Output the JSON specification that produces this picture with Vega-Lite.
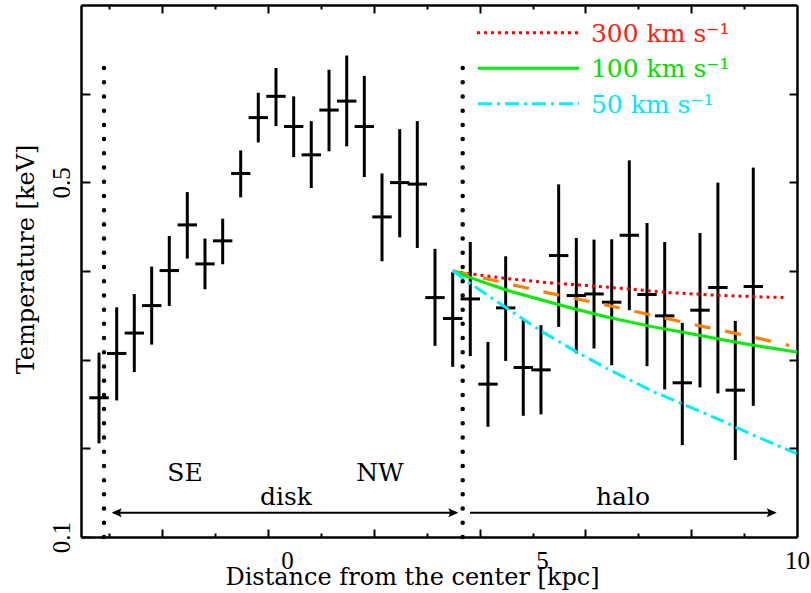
{
 "$schema": "https://vega.github.io/schema/vega-lite/v6.json",
 "width": 716, "height": 532,
 "autosize": {"type": "none"},
 "padding": {"left": 81, "top": 5, "right": 14, "bottom": 56},
 "background": "white",
 "config": {
  "view": {"stroke": null},
  "font": "DejaVu Serif",
  "axis": {"grid": false, "domainColor": "black", "domainWidth": 2.5, "tickColor": "black", "tickWidth": 2, "labelColor": "black", "titleColor": "black", "labelFont": "Liberation Serif", "titleFont": "DejaVu Serif", "labelFontSize": 25, "titleFontSize": 24, "titleFontWeight": "normal"}
 },
 "datasets": {
  "pts": [
   {"x": -3.686, "xlo": -3.876, "xhi": -3.496, "y": 0.257, "ylo": 0.2056, "yhi": 0.308},
   {"x": -3.339, "xlo": -3.529, "xhi": -3.149, "y": 0.307, "ylo": 0.254, "yhi": 0.359},
   {"x": -2.994, "xlo": -3.184, "xhi": -2.804, "y": 0.330, "ylo": 0.286, "yhi": 0.374},
   {"x": -2.653, "xlo": -2.843, "xhi": -2.463, "y": 0.361, "ylo": 0.317, "yhi": 0.405},
   {"x": -2.308, "xlo": -2.498, "xhi": -2.118, "y": 0.4005, "ylo": 0.3606, "yhi": 0.4395},
   {"x": -1.955, "xlo": -2.145, "xhi": -1.765, "y": 0.452, "ylo": 0.414, "yhi": 0.489},
   {"x": -1.608, "xlo": -1.798, "xhi": -1.418, "y": 0.408, "ylo": 0.3794, "yhi": 0.4366},
   {"x": -1.261, "xlo": -1.451, "xhi": -1.071, "y": 0.434, "ylo": 0.4076, "yhi": 0.459},
   {"x": -0.908, "xlo": -1.098, "xhi": -0.718, "y": 0.510, "ylo": 0.483, "yhi": 0.536},
   {"x": -0.563, "xlo": -0.753, "xhi": -0.373, "y": 0.573, "ylo": 0.545, "yhi": 0.601},
   {"x": -0.216, "xlo": -0.406, "xhi": -0.026, "y": 0.597, "ylo": 0.5634, "yhi": 0.629},
   {"x": 0.131, "xlo": -0.059, "xhi": 0.321, "y": 0.563, "ylo": 0.5285, "yhi": 0.597},
   {"x": 0.476, "xlo": 0.286, "xhi": 0.666, "y": 0.531, "ylo": 0.4936, "yhi": 0.569},
   {"x": 0.824, "xlo": 0.634, "xhi": 1.014, "y": 0.5815, "ylo": 0.535, "yhi": 0.627},
   {"x": 1.171, "xlo": 0.981, "xhi": 1.361, "y": 0.5916, "ylo": 0.5406, "yhi": 0.643},
   {"x": 1.516, "xlo": 1.326, "xhi": 1.706, "y": 0.563, "ylo": 0.506, "yhi": 0.620},
   {"x": 1.863, "xlo": 1.673, "xhi": 2.053, "y": 0.461, "ylo": 0.411, "yhi": 0.510},
   {"x": 2.210, "xlo": 2.020, "xhi": 2.400, "y": 0.4997, "ylo": 0.438, "yhi": 0.560},
   {"x": 2.555, "xlo": 2.365, "xhi": 2.745, "y": 0.498, "ylo": 0.426, "yhi": 0.569},
   {"x": 2.902, "xlo": 2.712, "xhi": 3.092, "y": 0.370, "ylo": 0.3156, "yhi": 0.425},
   {"x": 3.249, "xlo": 3.059, "xhi": 3.439, "y": 0.3464, "ylo": 0.2919, "yhi": 0.399},
   {"x": 3.594, "xlo": 3.404, "xhi": 3.784, "y": 0.3685, "ylo": 0.304, "yhi": 0.4327},
   {"x": 3.941, "xlo": 3.751, "xhi": 4.131, "y": 0.2724, "ylo": 0.2243, "yhi": 0.320},
   {"x": 4.288, "xlo": 4.098, "xhi": 4.478, "y": 0.3584, "ylo": 0.2986, "yhi": 0.4166},
   {"x": 4.633, "xlo": 4.443, "xhi": 4.823, "y": 0.2912, "ylo": 0.2367, "yhi": 0.3453},
   {"x": 4.980, "xlo": 4.790, "xhi": 5.170, "y": 0.2885, "ylo": 0.2383, "yhi": 0.3389},
   {"x": 5.327, "xlo": 5.137, "xhi": 5.517, "y": 0.4174, "ylo": 0.337, "yhi": 0.4977},
   {"x": 5.673, "xlo": 5.483, "xhi": 5.863, "y": 0.3723, "ylo": 0.307, "yhi": 0.4372},
   {"x": 6.020, "xlo": 5.830, "xhi": 6.210, "y": 0.3741, "ylo": 0.3126, "yhi": 0.4354},
   {"x": 6.367, "xlo": 6.177, "xhi": 6.557, "y": 0.3648, "ylo": 0.2938, "yhi": 0.4358},
   {"x": 6.712, "xlo": 6.522, "xhi": 6.902, "y": 0.4403, "ylo": 0.3558, "yhi": 0.5248},
   {"x": 7.059, "xlo": 6.869, "xhi": 7.249, "y": 0.3735, "ylo": 0.2927, "yhi": 0.4541},
   {"x": 7.406, "xlo": 7.216, "xhi": 7.596, "y": 0.3494, "ylo": 0.2664, "yhi": 0.4327},
   {"x": 7.751, "xlo": 7.561, "xhi": 7.941, "y": 0.2739, "ylo": 0.2037, "yhi": 0.3415},
   {"x": 8.098, "xlo": 7.908, "xhi": 8.288, "y": 0.3558, "ylo": 0.2687, "yhi": 0.4429},
   {"x": 8.449, "xlo": 8.259, "xhi": 8.639, "y": 0.3814, "ylo": 0.2619, "yhi": 0.4997},
   {"x": 8.790, "xlo": 8.600, "xhi": 8.980, "y": 0.2656, "ylo": 0.1868, "yhi": 0.3437},
   {"x": 9.143, "xlo": 8.953, "xhi": 9.333, "y": 0.3825, "ylo": 0.2479, "yhi": 0.5166}
  ],
  "curves": [
   {"model": "300", "x": 3.25, "y": 0.400}, {"model": "300", "x": 3.65, "y": 0.3963}, {"model": "300", "x": 4.31, "y": 0.3915}, {"model": "300", "x": 5.18, "y": 0.3865}, {"model": "300", "x": 6.08, "y": 0.3828}, {"model": "300", "x": 7.49, "y": 0.3757}, {"model": "300", "x": 8.41, "y": 0.3727}, {"model": "300", "x": 9.30, "y": 0.3708}, {"model": "300", "x": 9.75, "y": 0.370},
   {"model": "orange", "x": 3.25, "y": 0.400}, {"model": "orange", "x": 4.18, "y": 0.3877}, {"model": "orange", "x": 5.12, "y": 0.3753}, {"model": "orange", "x": 6.37, "y": 0.3603}, {"model": "orange", "x": 7.94, "y": 0.340}, {"model": "orange", "x": 9.18, "y": 0.325}, {"model": "orange", "x": 9.85, "y": 0.316},
   {"model": "100", "x": 3.25, "y": 0.400}, {"model": "100", "x": 3.65, "y": 0.3915}, {"model": "100", "x": 4.31, "y": 0.3783}, {"model": "100", "x": 4.96, "y": 0.3678}, {"model": "100", "x": 5.61, "y": 0.3577}, {"model": "100", "x": 6.27, "y": 0.3482}, {"model": "100", "x": 7.18, "y": 0.337}, {"model": "100", "x": 7.84, "y": 0.330}, {"model": "100", "x": 8.49, "y": 0.3231}, {"model": "100", "x": 9.14, "y": 0.3163}, {"model": "100", "x": 10.0, "y": 0.3085},
   {"model": "50", "x": 3.25, "y": 0.400}, {"model": "50", "x": 3.59, "y": 0.386}, {"model": "50", "x": 4.57, "y": 0.348}, {"model": "50", "x": 4.96, "y": 0.333}, {"model": "50", "x": 5.61, "y": 0.311}, {"model": "50", "x": 6.27, "y": 0.290}, {"model": "50", "x": 6.69, "y": 0.278}, {"model": "50", "x": 7.18, "y": 0.264}, {"model": "50", "x": 7.84, "y": 0.248}, {"model": "50", "x": 8.49, "y": 0.232}, {"model": "50", "x": 9.14, "y": 0.215}, {"model": "50", "x": 9.99, "y": 0.194}
  ],
  "leg": [
   {"model": "300", "x1": 3.725, "x2": 5.706, "tx": 5.96, "y": 0.6687, "label": "300 km s⁻¹"},
   {"model": "100", "x1": 3.745, "x2": 5.726, "tx": 5.96, "y": 0.6288, "label": "100 km s⁻¹"},
   {"model": "50", "x1": 3.745, "x2": 5.726, "tx": 5.96, "y": 0.5887, "label": "50 km s⁻¹"}
  ],
  "arrows": [
   {"x1": -3.40, "x2": 3.32, "y": 0.1274},
   {"x1": 3.588, "x2": 9.56, "y": 0.1274}
  ],
  "heads": [
   {"x": -3.437, "y": 0.1274, "dir": "left"},
   {"x": 3.359, "y": 0.1274, "dir": "right"},
   {"x": 9.602, "y": 0.1274, "dir": "right"}
  ],
  "ann": [
   {"x": -2.0, "y": 0.1634, "t": "SE"},
   {"x": 1.824, "y": 0.1634, "t": "NW"},
   {"x": -0.02, "y": 0.136, "t": "disk"},
   {"x": 6.588, "y": 0.136, "t": "halo"}
  ],
  "vlines": [
   {"x": -3.588, "ylo": 0.1, "yhi": 0.643},
   {"x": 3.445, "ylo": 0.1, "yhi": 0.643}
  ]
 },
 "resolve": {"axis": {"x": "independent", "y": "independent"}},
 "layer": [
  {
   "layer": [
    {
     "data": {"name": "pts"},
     "mark": {"type": "rule", "strokeWidth": 3, "color": "black"},
     "encoding": {
      "x": {"field": "x", "type": "quantitative",
       "scale": {"domain": [-4.039, 10], "nice": false, "zero": false},
       "axis": {"orient": "bottom", "title": "Distance from the center [kpc]", "titleX": 331, "titleY": 47, "titleAlign": "center", "titleBaseline": "alphabetic",
        "values": [-3.484, -2.447, -1.41, -0.373, 0, 0.665, 1.702, 2.739, 3.776, 4.814, 5, 5.851, 6.888, 7.925, 8.963, 10],
        "labelExpr": "datum.value == 0 ? '0' : datum.value == 5 ? '5' : datum.value == 10 ? '10' : ''",
        "labelOverlap": false, "labelFlush": false, "labelPadding": 31, "labelBaseline": "alphabetic", "labelAlign": "center",
        "tickSize": {"condition": [{"test": "datum.value == 0 || datum.value == 5 || datum.value == 10", "value": 0}, {"test": "indexof([-2.447, -0.373, 1.702, 3.776, 5.851, 7.925], datum.value) >= 0", "value": -8}], "value": -4}}},
      "y": {"field": "ylo", "type": "quantitative",
       "scale": {"domain": [0.1, 0.7], "nice": false, "zero": false},
       "axis": {"orient": "left", "title": "Temperature [keV]", "titleX": -47.5, "titleY": 254, "titleAngle": 270, "titleAlign": "center", "titleBaseline": "alphabetic",
        "values": [0.1, 0.2, 0.3, 0.4, 0.5, 0.6],
        "labelExpr": "datum.value == 0.1 ? '0.1' : datum.value == 0.5 ? '0.5' : ''",
        "labelAngle": 270, "labelAlign": "center", "labelBaseline": "alphabetic", "labelPadding": 21, "tickSize": -9, "labelOverlap": false, "labelFlush": false}},
      "y2": {"field": "yhi"}
     }
    },
    {
     "data": {"name": "pts"},
     "mark": {"type": "rule", "strokeWidth": 3, "color": "black"},
     "encoding": {
      "x": {"field": "xlo", "type": "quantitative"},
      "x2": {"field": "xhi"},
      "y": {"field": "y", "type": "quantitative"}
     }
    },
    {
     "data": {"name": "curves"},
     "transform": [{"filter": "datum.model == '300'"}],
     "mark": {"type": "line", "color": "#ff0000", "strokeWidth": 3, "strokeDash": [3, 4]},
     "encoding": {"x": {"field": "x", "type": "quantitative"}, "y": {"field": "y", "type": "quantitative"}}
    },
    {
     "data": {"name": "curves"},
     "transform": [{"filter": "datum.model == 'orange'"}],
     "mark": {"type": "line", "color": "#ff8000", "strokeWidth": 3.2, "strokeDash": [16, 15]},
     "encoding": {"x": {"field": "x", "type": "quantitative"}, "y": {"field": "y", "type": "quantitative"}}
    },
    {
     "data": {"name": "curves"},
     "transform": [{"filter": "datum.model == '100'"}],
     "mark": {"type": "line", "color": "#00ee00", "strokeWidth": 3},
     "encoding": {"x": {"field": "x", "type": "quantitative"}, "y": {"field": "y", "type": "quantitative"}}
    },
    {
     "data": {"name": "curves"},
     "transform": [{"filter": "datum.model == '50'"}],
     "mark": {"type": "line", "color": "#00eeff", "strokeWidth": 3, "strokeDash": [14, 5, 3, 5]},
     "encoding": {"x": {"field": "x", "type": "quantitative"}, "y": {"field": "y", "type": "quantitative"}}
    },
    {
     "data": {"name": "leg"},
     "transform": [{"filter": "datum.model == '300'"}],
     "mark": {"type": "rule", "color": "#ff0000", "strokeWidth": 3, "strokeDash": [3, 4]},
     "encoding": {"x": {"field": "x1", "type": "quantitative"}, "x2": {"field": "x2"}, "y": {"field": "y", "type": "quantitative"}}
    },
    {
     "data": {"name": "leg"},
     "transform": [{"filter": "datum.model == '100'"}],
     "mark": {"type": "rule", "color": "#00ee00", "strokeWidth": 3},
     "encoding": {"x": {"field": "x1", "type": "quantitative"}, "x2": {"field": "x2"}, "y": {"field": "y", "type": "quantitative"}}
    },
    {
     "data": {"name": "leg"},
     "transform": [{"filter": "datum.model == '50'"}],
     "mark": {"type": "rule", "color": "#00eeff", "strokeWidth": 3, "strokeDash": [14, 5, 3, 5]},
     "encoding": {"x": {"field": "x1", "type": "quantitative"}, "x2": {"field": "x2"}, "y": {"field": "y", "type": "quantitative"}}
    },
    {
     "data": {"name": "leg"},
     "mark": {"type": "text", "align": "left", "baseline": "middle", "fontSize": 25, "font": "DejaVu Serif", "dy": 1},
     "encoding": {
      "x": {"field": "tx", "type": "quantitative"},
      "y": {"field": "y", "type": "quantitative"},
      "text": {"field": "label"},
      "color": {"field": "model", "type": "nominal", "scale": {"domain": ["300", "100", "50"], "range": ["#ff2010", "#00e000", "#00e8ff"]}, "legend": null}
     }
    },
    {
     "data": {"name": "arrows"},
     "mark": {"type": "rule", "strokeWidth": 2, "color": "black"},
     "encoding": {"x": {"field": "x1", "type": "quantitative"}, "x2": {"field": "x2"}, "y": {"field": "y", "type": "quantitative"}}
    },
    {
     "data": {"name": "heads"},
     "mark": {"type": "point", "filled": true, "color": "black", "opacity": 1, "size": 400, "strokeWidth": 0},
     "encoding": {
      "x": {"field": "x", "type": "quantitative"},
      "y": {"field": "y", "type": "quantitative"},
      "shape": {"field": "dir", "type": "nominal", "scale": {"domain": ["left", "right"], "range": ["M0,0L1,-0.45L0.8,0L1,0.45Z", "M0,0L-1,-0.45L-0.8,0L-1,0.45Z"]}, "legend": null}
     }
    },
    {
     "data": {"name": "ann"},
     "mark": {"type": "text", "fontSize": 25, "align": "center", "baseline": "alphabetic", "color": "black", "font": "DejaVu Serif"},
     "encoding": {"x": {"field": "x", "type": "quantitative"}, "y": {"field": "y", "type": "quantitative"}, "text": {"field": "t"}}
    }
   ]
  },
  {
   "data": {"name": "vlines"},
   "mark": {"type": "rule", "strokeDash": [0.01, 14.2], "strokeCap": "round", "strokeWidth": 4.5, "color": "black"},
   "encoding": {
    "x": {"field": "x", "type": "quantitative",
     "axis": {"orient": "top", "title": null, "labels": false,
      "values": [-3.484, -2.447, -1.41, -0.373, 0.665, 1.702, 2.739, 3.776, 4.814, 5.851, 6.888, 7.925, 8.963],
      "tickSize": {"condition": {"test": "indexof([-2.447, -0.373, 1.702, 3.776, 5.851, 7.925], datum.value) >= 0", "value": -8}, "value": -4}}},
    "y": {"field": "ylo", "type": "quantitative",
     "axis": {"orient": "right", "title": null, "labels": false, "values": [0.2, 0.3, 0.4, 0.5, 0.6], "tickSize": -8}},
    "y2": {"field": "yhi"}
   }
  }
 ]
}
